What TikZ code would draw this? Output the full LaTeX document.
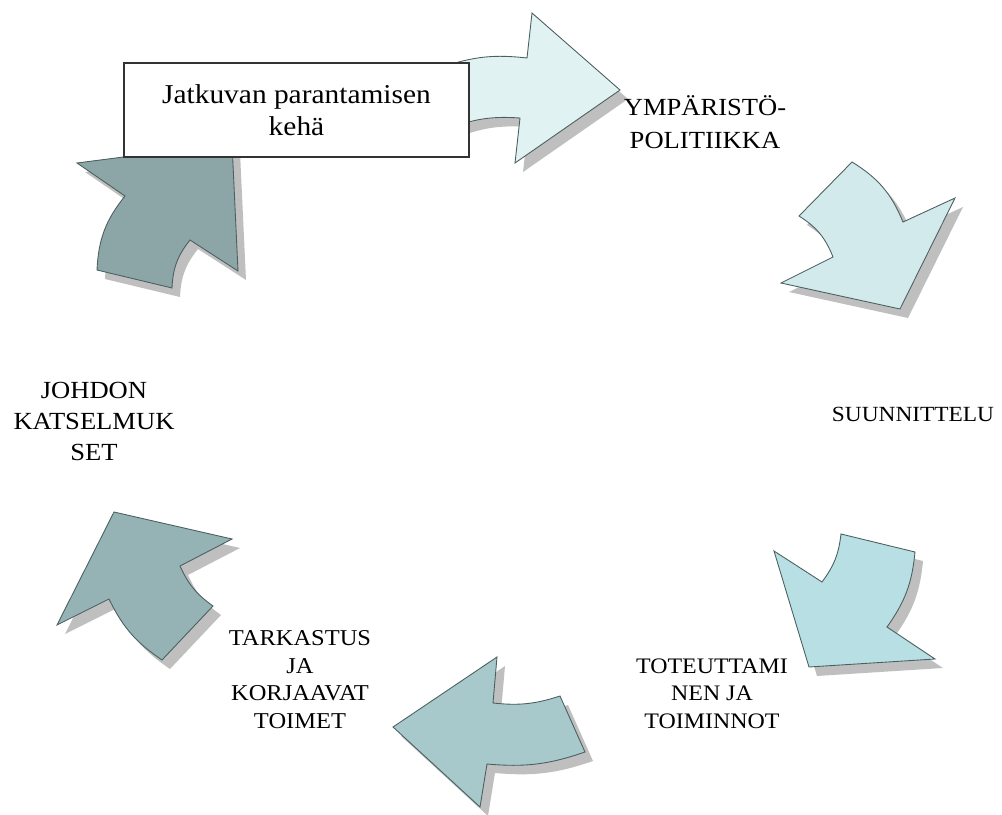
\documentclass[tikz,border=0pt]{standalone}
\usepackage{fontspec}
\setmainfont[FakeStretch=1.08]{Liberation Serif}
\usepackage{tikz}
\usetikzlibrary{shadows}

\definecolor{kehaA}{RGB}{225,242,243}
\definecolor{kehaB}{RGB}{210,234,236}
\definecolor{kehaC}{RGB}{184,223,227}
\definecolor{kehaD}{RGB}{167,201,204}
\definecolor{kehaE}{RGB}{149,178,181}
\definecolor{kehaF}{RGB}{140,166,168}
\definecolor{kehaviiva}{RGB}{75,95,95}

\begin{document}
\begin{tikzpicture}[x=0.02cm, y=0.02cm,
  kaari/.style={draw=kehaviiva, line width=0.5pt,
    drop shadow={shadow xshift=0.16cm, shadow yshift=-0.18cm, fill=black!25, opacity=1}},
  teksti/.style={align=center, anchor=base, inner sep=0pt}]
  \useasboundingbox (0,0) rectangle (1002,-815);
  \draw[kaari, fill=kehaA] (445,-66) to[bend left=12] (527,-58) -- (532,-13) -- (620,-90) -- (515,-163) -- (520,-118) to[bend right=12] (450,-128) -- cycle;
  \draw[kaari, fill=kehaB] (852,-162) to[bend left=18] (903,-222) -- (955,-198) -- (900,-309) -- (781,-283) -- (833,-257) to[bend right=18] (799,-216) -- cycle;
  \draw[kaari, fill=kehaC] (915,-552) to[bend left=15] (887,-627) -- (935,-659) -- (809,-667) -- (774,-551) -- (822,-582) to[bend right=15] (841,-534) -- cycle;
  \draw[kaari, fill=kehaD] (585,-752) to[bend left=12] (487,-764) -- (480,-807) -- (393,-727) -- (497,-657) -- (493,-703) to[bend right=12] (560,-696) -- cycle;
  \draw[kaari, fill=kehaE] (162,-660) to[bend left=15] (109,-599) -- (57,-625) -- (114,-512) -- (232,-539) -- (180,-566) to[bend right=15] (213,-606) -- cycle;
  \draw[kaari, fill=kehaF] (97,-270) to[bend left=18] (125,-196) -- (77,-163) -- (232,-143) -- (238,-271) -- (190,-240) to[bend right=18] (172,-288) -- cycle;
  \node[teksti, font=\fontsize{14}{18.7}\selectfont] (ymp) at (705,-148) {YMPÄRISTÖ-\\POLITIIKKA};
  \node[teksti, font=\fontsize{12.3}{15.6}\selectfont] (suun) at (913,-421) {SUUNNITTELU};
  \node[teksti, font=\fontsize{12.6}{15.6}\selectfont] (tot) at (712,-728) {TOTEUTTAMI\\NEN JA\\TOIMINNOT};
  \node[teksti, font=\fontsize{12.9}{15.6}\selectfont] (tark) at (300,-728) {TARKASTUS\\JA\\KORJAAVAT\\TOIMET};
  \node[teksti, font=\fontsize{14}{17.6}\selectfont] (johd) at (94,-460) {JOHDON\\KATSELMUK\\SET};
  \node[draw=black!80, line width=0.8pt, fill=white, minimum width=6.9cm, minimum height=1.88cm,
    align=center, font=\fontsize{15.5}{18.1}\selectfont] (keha) at (296.5,-110) {Jatkuvan parantamisen\\kehä};
\end{tikzpicture}
\end{document}
